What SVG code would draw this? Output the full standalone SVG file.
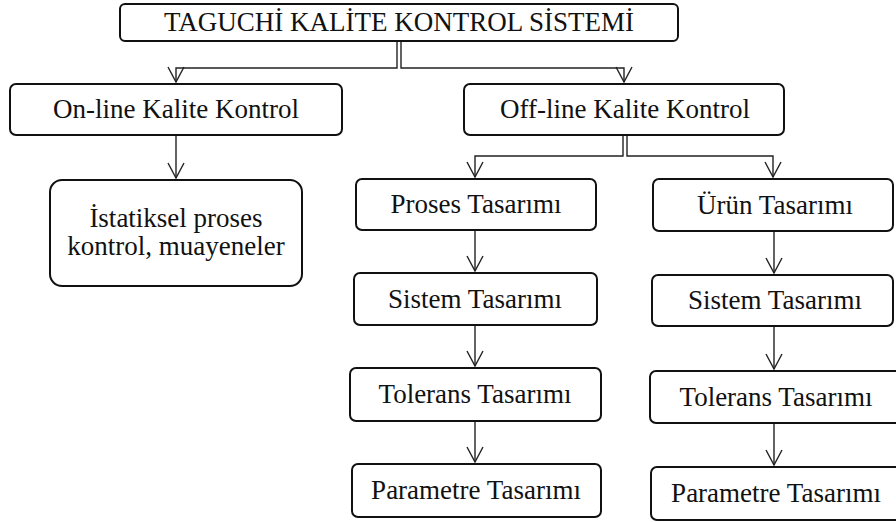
<svg xmlns="http://www.w3.org/2000/svg" width="896" height="522" viewBox="0 0 896 522">
<style>
.box{fill:#fff;stroke:#111;stroke-width:2}
.t{font-family:"Liberation Serif","Times New Roman",serif;font-size:27px;fill:#111;text-anchor:middle}
.c{fill:none;stroke:#222;stroke-width:1.4}
</style>
<defs>
<marker id="arr" markerUnits="userSpaceOnUse" viewBox="-1 -1 18 20" refX="15" refY="8" markerWidth="18" markerHeight="20" orient="auto">
<path d="M0,0 L15,8 L0,16" fill="none" stroke="#222" stroke-width="1.4"/>
</marker>
</defs>
<rect width="896" height="522" fill="#fff"/>
<g id="connectors">
<path class="c" d="M397,41 V68 H176 V82" marker-end="url(#arr)"/>
<path class="c" d="M401,41 V68 H624 V82" marker-end="url(#arr)"/>
<path class="c" d="M176,135 V178" marker-end="url(#arr)"/>
<path class="c" d="M623,135 V156 H475 V177" marker-end="url(#arr)"/>
<path class="c" d="M627,135 V156 H773 V177" marker-end="url(#arr)"/>
<path class="c" d="M475,230 V271" marker-end="url(#arr)"/>
<path class="c" d="M475,325 V366" marker-end="url(#arr)"/>
<path class="c" d="M475,421 V462" marker-end="url(#arr)"/>
<path class="c" d="M774,231 V273" marker-end="url(#arr)"/>
<path class="c" d="M774,326 V369" marker-end="url(#arr)"/>
<path class="c" d="M774,423 V465" marker-end="url(#arr)"/>
</g>
<g id="root"><rect class="box" x="120" y="4" width="558" height="37" rx="5"/><text class="t" x="399" y="31">TAGUCHİ KALİTE KONTROL SİSTEMİ</text></g>
<g id="online"><rect class="box" x="10" y="84" width="332" height="51" rx="6"/><text class="t" x="176" y="118">On-line Kalite Kontrol</text></g>
<g id="offline"><rect class="box" x="464" y="84" width="320" height="51" rx="6"/><text class="t" x="625" y="118">Off-line Kalite Kontrol</text></g>
<g id="istatiksel"><rect class="box" x="50" y="180" width="252" height="106" rx="12"/><text class="t" x="176" y="227">İstatiksel proses</text><text class="t" x="176" y="255">kontrol, muayeneler</text></g>
<g id="proses"><rect class="box" x="356" y="179" width="240" height="51" rx="6"/><text class="t" x="476" y="213">Proses Tasarımı</text></g>
<g id="sistem1"><rect class="box" x="354" y="273" width="243" height="52" rx="6"/><text class="t" x="475" y="308">Sistem Tasarımı</text></g>
<g id="tolerans1"><rect class="box" x="350" y="368" width="251" height="53" rx="6"/><text class="t" x="475" y="403">Tolerans Tasarımı</text></g>
<g id="parametre1"><rect class="box" x="352" y="464" width="249" height="53" rx="6"/><text class="t" x="476" y="499">Parametre Tasarımı</text></g>
<g id="urun"><rect class="box" x="653" y="179" width="240" height="52" rx="6"/><text class="t" x="775" y="214">Ürün Tasarımı</text></g>
<g id="sistem2"><rect class="box" x="652" y="275" width="241" height="51" rx="6"/><text class="t" x="775" y="309">Sistem Tasarımı</text></g>
<g id="tolerans2"><rect class="box" x="650" y="371" width="252" height="52" rx="6"/><text class="t" x="776" y="406">Tolerans Tasarımı</text></g>
<g id="parametre2"><rect class="box" x="651" y="467" width="251" height="53" rx="6"/><text class="t" x="776" y="502">Parametre Tasarımı</text></g>
</svg>
